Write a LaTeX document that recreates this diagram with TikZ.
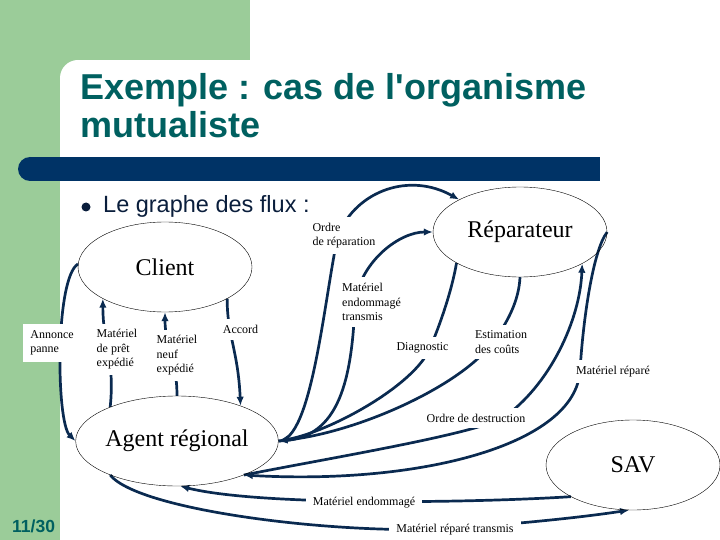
\documentclass[tikz,border=0pt]{standalone}
\usepackage{fontspec}
\setmainfont{Liberation Serif}
\newfontfamily\arialfont{Liberation Sans}
\usetikzlibrary{shapes.geometric,arrows.meta}
\definecolor{slidegreen}{RGB}{155,204,153}
\definecolor{barblue}{RGB}{0,51,102}
\definecolor{titleteal}{RGB}{0,96,96}
\definecolor{textnavy}{RGB}{10,30,60}
\definecolor{fluxblue}{RGB}{10,42,80}
\pgfdeclarelayer{bg}
\pgfdeclarelayer{flux}
\pgfsetlayers{bg,flux,main}
\tikzset{
	entity/.style = {draw, thin, ellipse, inner sep=0pt, minimum width=174pt,
		minimum height=90pt, font=\fontsize{24}{28}\selectfont},
	lbl/.style    = {fill=white, inner xsep=3pt, inner ysep=6pt, align=left,
		font=\fontsize{12}{14.5}\selectfont}, % label on a flux
	flux/.style   = {draw=fluxblue, line width=2.7pt},
	titre/.style  = {text=titleteal, inner sep=0pt, align=left,
		font=\arialfont\bfseries\fontsize{36}{38}\selectfont}
}

\begin{document}
\begin{tikzpicture}[x=1pt, y=-1pt, >={Latex[length=9pt,width=7.5pt]}]
	\useasboundingbox (0,0) rectangle (720,540);
	\begin{pgfonlayer}{bg}
	\fill[slidegreen] (0,0) rectangle (250,60);
	\fill[slidegreen] (0,0) rectangle (60,540);
	\fill[slidegreen] (60,60) rectangle (78,78);
	\fill[white] (78,78) circle (18);
	\fill[barblue] (30,157) rectangle (600,181);
	\fill[barblue] (30,169) circle (12);
	\end{pgfonlayer}

	\node[titre, anchor=north west] (titre) at (80,73) {Exemple : cas de l'organisme\\mutualiste};
	\node[circle, fill=textnavy, inner sep=0pt, minimum size=9pt] (puce) at (86,207) {};
	\node[anchor=base west, inner sep=0pt, text=textnavy,
		font=\arialfont\fontsize{23.5}{28}\selectfont] (graphe) at (103,213) {Le graphe des flux :};
	\node[anchor=base west, inner sep=0pt, text=titleteal,
		font=\arialfont\bfseries\fontsize{17.5}{20}\selectfont] (page) at (12,532) {11/30};

	\draw
	node at (165,267) [entity] (client) {Client}
	node at (520,232) [entity] (repar) {Réparateur}
	node at (177,441) [entity] (agent) {Agent régional}
	node at (633,465) [entity] (sav) {SAV};

	\draw
	node at (52,343) [lbl, inner sep=7pt] (lannonce) {Annonce\\panne}
	node at (117,349.5) [lbl] (lpret) {Matériel\\de prêt\\expédié}
	node at (177,355.5) [lbl] (lneuf) {Matériel\\neuf\\expédié}
	node at (240.5,329.5) [lbl] (laccord) {Accord}
	node at (344,235.5) [lbl] (lordrerep) {Ordre\\de réparation}
	node at (371.5,302) [lbl] (lmatendt) {Matériel\\endommagé\\transmis}
	node at (422.5,348) [lbl] (ldiag) {Diagnostic}
	node at (501,342) [lbl] (lestim) {Estimation\\des coûts}
	node at (613,371.5) [lbl] (lmatrep) {Matériel réparé}
	node at (476,418) [lbl] (ldestr) {Ordre de destruction}
	node at (364,503) [lbl, inner xsep=7pt] (lmatend) {Matériel endommagé}
	node at (455,529.5) [lbl, inner xsep=7pt] (lmatrept) {Matériel réparé transmis};

	\begin{pgfonlayer}{flux}
	% client <-> agent
	\draw[flux,->] (client.178) .. controls (55,278) and (56,422) .. (agent.west);
	\draw[flux,->] (agent.153) .. controls (115,360) and (103,345) .. (client.207);
	\draw[flux,->] (agent.north) .. controls (177,360) and (165,345) .. (client.south);
	\draw[flux,->] (client.-27) .. controls (227,335) and (238,350) .. (agent.29);
	% agent <-> reparateur
	\draw[flux,->] (agent.east) .. controls (312,441) and (324,300) .. (338,235)
		.. controls (357,190) and (410,172) .. (repar.152);
	\draw[flux,->] (agent.east) .. controls (335,440) and (352,390) .. (355,301)
		.. controls (362,260) and (400,232) .. (repar.west);
	\draw[flux,->] (repar.206) .. controls (452,290) and (440,325) .. (430,348)
		.. controls (415,385) and (330,432) .. (agent.east);
	\draw[flux,->] (repar.south) .. controls (519,300) and (508,322) .. (493,342)
		.. controls (462,385) and (360,432) .. (agent.east);
	\draw[flux,->] (agent.-27) .. controls (330,458) and (470,435) .. (503,418)
		.. controls (550,385) and (580,320) .. (repar.-27);
	\draw[flux,->] (repar.east) .. controls (593,250) and (583,320) .. (580,371)
		.. controls (575,445) and (420,485) .. (agent.-27);
	% agent <-> SAV
	\draw[flux,->] (sav.207) .. controls (470,503) and (260,506) .. (agent.-86);
	\draw[flux,->] (agent.207) .. controls (140,512) and (350,536) .. (458,528)
		.. controls (540,522) and (590,516) .. (sav.-95);
	\end{pgfonlayer}
\end{tikzpicture}
\end{document}
